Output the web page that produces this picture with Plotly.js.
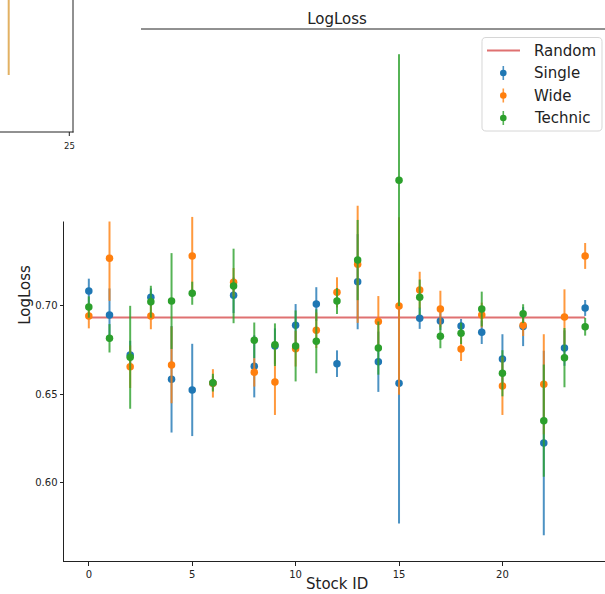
<!DOCTYPE html>
<html>
<head>
<meta charset="utf-8">
<script src="https://cdn.plot.ly/plotly-3.0.1.min.js"></script>
<style>
  html, body { margin: 0; padding: 0; background: #fff; }
  #chart { width: 605px; height: 594px; }
</style>
</head>
<body>
<div id="chart"></div>
<script>
// Per-stock mean LogLoss with spread, for three model variants
const stockIds = [0,1,2,3,4,5,6,7,8,9,10,11,12,13,14,15,16,17,18,19,20,21,22,23,24];

const singleMean = [0.708,0.6945,0.672,0.7045,0.6583,0.6523,0.656,0.7056,0.6656,0.677,0.6887,0.7007,0.6671,0.7133,0.6682,0.656,0.6927,0.6911,0.6883,0.6848,0.6697,0.688,0.6224,0.6759,0.6985];
const singleErr  = [0.007,0.015,0.008,0.005,0.030,0.026,0.004,0.010,0.0175,0.010,0.012,0.0095,0.0075,0.0268,0.017,0.079,0.006,0.005,0.004,0.0066,0.014,0.011,0.052,0.010,0.0045];

const wideMean = [0.694,0.7265,0.6654,0.694,0.6664,0.7278,0.656,0.713,0.6622,0.6568,0.6755,0.6859,0.7073,0.7231,0.6908,0.6996,0.7086,0.6979,0.6754,0.6945,0.6545,0.6887,0.6555,0.6934,0.7278];
const wideErr  = [0.007,0.024,0.012,0.0075,0.0216,0.022,0.008,0.008,0.008,0.0186,0.010,0.010,0.0085,0.033,0.0144,0.050,0.0103,0.0103,0.0068,0.007,0.0163,0.006,0.0282,0.0156,0.0073];

const technicMean = [0.699,0.6814,0.6707,0.702,0.7024,0.7068,0.6564,0.7109,0.6803,0.6778,0.6771,0.6797,0.7024,0.7255,0.6759,0.7705,0.7045,0.6825,0.6842,0.6979,0.6617,0.6953,0.635,0.6705,0.6879];
const technicErr  = [0.006,0.008,0.029,0.009,0.027,0.0065,0.005,0.021,0.010,0.012,0.020,0.018,0.0073,0.0226,0.015,0.071,0.010,0.0067,0.006,0.0098,0.013,0.0053,0.0316,0.0167,0.005];

// LogLoss of a coin-flip predictor, ln(2)
const randomLogLoss = 0.6931;

const seriesNames = ['Single', 'Wide', 'Technic'];
const seriesColors = ['#1f77b4', '#ff7f0e', '#2ca02c'];
const seriesBarColors = ['rgba(31,119,180,0.8)', 'rgba(255,127,14,0.8)', 'rgba(44,160,44,0.8)'];
const randomColor = 'rgba(208,45,46,0.68)';

const FONT = 'DejaVu Sans, Liberation Sans, sans-serif';
const INK = '#222';

// plot area geometry in pixels
const L = 64, T = 29, W = 541, H = 532;
const px = p => (p - L) / W;
const py = p => (T + H - p) / H;

const traces = [{
  type: 'scatter', mode: 'lines', name: 'Random',
  x: [stockIds[0], stockIds[stockIds.length - 1]],
  y: [randomLogLoss, randomLogLoss],
  line: { color: randomColor, width: 2 },
  hoverinfo: 'skip'
}];

const means = [singleMean, wideMean, technicMean];
const errs = [singleErr, wideErr, technicErr];
for (let k = 0; k < 3; k++) {
  traces.push({
    type: 'scatter', mode: 'markers', name: seriesNames[k],
    x: stockIds, y: means[k],
    marker: { color: seriesColors[k], size: 7.5 },
    error_y: { type: 'data', array: errs[k], visible: true, color: seriesBarColors[k], thickness: 2, width: 0 }
  });
}

const shapes = [];
// top frame line of the main panel
shapes.push({ type: 'line', xref: 'paper', yref: 'paper', x0: px(141), x1: px(606), y0: 1, y1: 1, line: { color: INK, width: 1 }, layer: 'above' });

// inset panel in the upper-left corner (white face hides what lies beneath)
shapes.push({ type: 'rect', xref: 'paper', yref: 'paper', x0: px(-2), x1: px(141), y0: py(221.5), y1: py(-2),
  fillcolor: '#ffffff', line: { width: 0 }, layer: 'above' });
shapes.push({ type: 'line', xref: 'paper', yref: 'paper', x0: px(8.7), x1: px(8.7), y0: py(-1), y1: py(75),
  line: { color: '#e2b163', width: 2 }, layer: 'above' });
shapes.push({ type: 'line', xref: 'paper', yref: 'paper', x0: px(73), x1: px(73), y0: py(-1), y1: py(132.5),
  line: { color: INK, width: 1 }, layer: 'above' });
shapes.push({ type: 'line', xref: 'paper', yref: 'paper', x0: px(-1), x1: px(73.5), y0: py(132), y1: py(132),
  line: { color: INK, width: 1 }, layer: 'above' });
shapes.push({ type: 'line', xref: 'paper', yref: 'paper', x0: px(69.3), x1: px(69.3), y0: py(132), y1: py(136),
  line: { color: INK, width: 1 }, layer: 'above' });

// legend box with rounded corners
function roundRect(x0, y0, x1, y1, r) {
  const X = v => px(v).toFixed(5), Y = v => py(v).toFixed(5);
  return `M${X(x0 + r)},${Y(y0)} L${X(x1 - r)},${Y(y0)} Q${X(x1)},${Y(y0)} ${X(x1)},${Y(y0 + r)} ` +
         `L${X(x1)},${Y(y1 - r)} Q${X(x1)},${Y(y1)} ${X(x1 - r)},${Y(y1)} L${X(x0 + r)},${Y(y1)} ` +
         `Q${X(x0)},${Y(y1)} ${X(x0)},${Y(y1 - r)} L${X(x0)},${Y(y0 + r)} Q${X(x0)},${Y(y0)} ${X(x0 + r)},${Y(y0)} Z`;
}
shapes.push({ type: 'path', xref: 'paper', yref: 'paper', path: roundRect(482, 37.5, 602, 131, 4),
  fillcolor: 'rgba(255,255,255,0.9)', line: { color: '#d6d6d6', width: 1 }, layer: 'above' });

const legendRows = [50.5, 73, 95.5, 118];
const legendLabels = ['Random'].concat(seriesNames);
shapes.push({ type: 'line', xref: 'paper', yref: 'paper', x0: px(487), x1: px(520), y0: py(legendRows[0]), y1: py(legendRows[0]),
  line: { color: randomColor, width: 2 }, layer: 'above' });
for (let k = 0; k < 3; k++) {
  const yc = legendRows[k + 1];
  shapes.push({ type: 'line', xref: 'paper', yref: 'paper', x0: px(503.3), x1: px(503.3), y0: py(yc - 7), y1: py(yc + 7),
    line: { color: seriesBarColors[k], width: 1.6 }, layer: 'above' });
  shapes.push({ type: 'circle', xref: 'paper', yref: 'paper', x0: px(500), x1: px(506.6), y0: py(yc + 3.3), y1: py(yc - 3.3),
    fillcolor: seriesColors[k], line: { width: 0 }, layer: 'above' });
}

const annotations = legendLabels.map((t, i) => ({
  xref: 'paper', yref: 'paper', x: px(532), y: py(legendRows[i]), xanchor: 'left', yanchor: 'middle',
  text: t, showarrow: false, font: { family: FONT, size: 15, color: INK }
}));
annotations.push({
  xref: 'paper', yref: 'paper', x: px(69.3), y: py(138.5), xanchor: 'center', yanchor: 'top',
  text: '25', showarrow: false, font: { family: FONT, size: 8.5, color: INK }
});
// x-axis title, placed just under the tick labels
annotations.push({
  xref: 'paper', yref: 'paper', x: px(337), y: py(584), xanchor: 'center', yanchor: 'middle',
  text: 'Stock ID', showarrow: false, font: { family: FONT, size: 15, color: INK }, borderpad: 0
});

const layout = {
  width: 605, height: 594,
  margin: { l: L, r: 0, t: T, b: 594 - T - H, pad: 0 },
  paper_bgcolor: '#fff', plot_bgcolor: '#fff',
  showlegend: false,
  font: { family: FONT, color: INK },
  title: { text: 'LogLoss', font: { family: FONT, size: 15, color: INK },
           x: 337 / 605, xref: 'container', xanchor: 'center', y: 1 - 19 / 594, yref: 'container', yanchor: 'middle' },
  xaxis: {
    range: [-1.2, 24.96], tickvals: [0, 5, 10, 15, 20], ticks: 'outside', ticklen: 3.5, tickwidth: 1, tickcolor: INK,
    showline: true, linecolor: INK, linewidth: 1, showgrid: false, zeroline: false,
    tickfont: { family: FONT, size: 10, color: INK }
  },
  yaxis: {
    range: [0.5559, 0.8557], tickvals: [0.60, 0.65, 0.70], tickformat: '.2f', ticks: 'outside', ticklen: 3.5, tickwidth: 1, tickcolor: INK,
    showline: true, linecolor: INK, linewidth: 1, showgrid: false, zeroline: false,
    tickfont: { family: FONT, size: 10, color: INK },
    title: { text: 'LogLoss', font: { family: FONT, size: 15, color: INK }, standoff: 0 }
  },
  shapes: shapes,
  annotations: annotations
};

Plotly.newPlot('chart', traces, layout, { staticPlot: true, displayModeBar: false });
</script>
</body>
</html>
